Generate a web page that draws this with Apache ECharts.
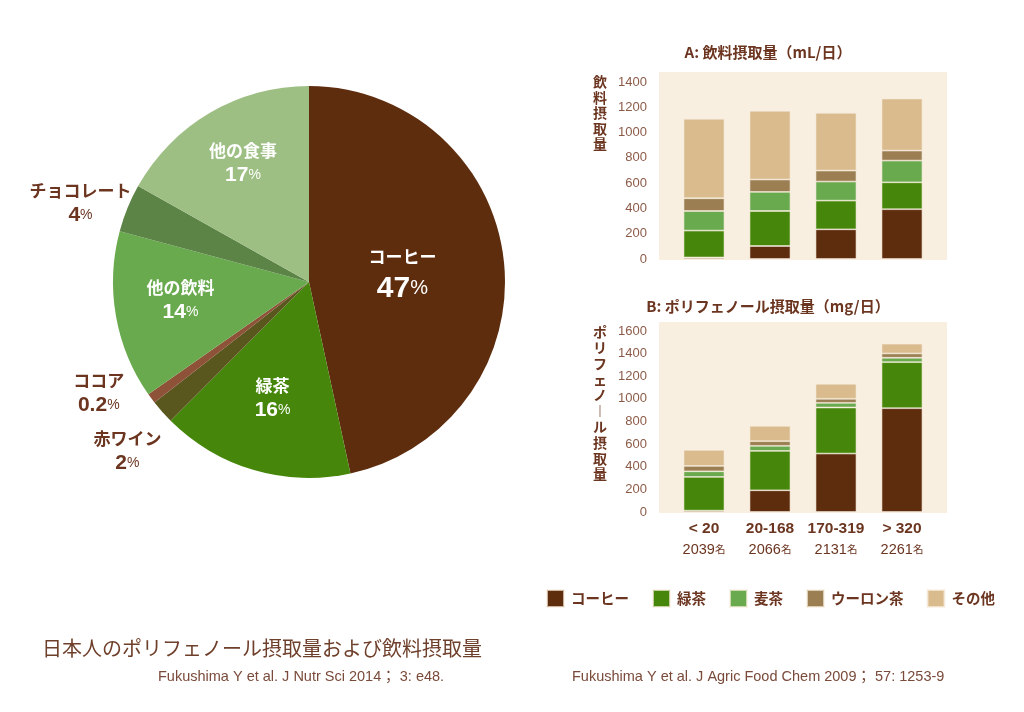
<!DOCTYPE html>
<html><head><meta charset="utf-8">
<script src="https://cdn.jsdelivr.net/npm/echarts@6/dist/echarts.min.js"></script>
<style>html,body{margin:0;padding:0;background:#fff}#c{width:1024px;height:712px}</style>
</head><body><div id="c"></div>
<script>
// ---- data ----
const pieNames = ['コーヒー', '緑茶', '赤ワイン', 'ココア', '他の飲料', 'チョコレート', '他の食事'];
const pieValues = [47, 16, 2, 0.2, 14, 4, 17];

const categories = ['< 20', '20-168', '170-319', '> 320'];
const counts = ['2039', '2066', '2131', '2261'];
const seriesNames = ['コーヒー', '緑茶', '麦茶', 'ウーロン茶', 'その他'];

// A: beverage intake (mL/day), stacked segments
const aCoffee = [12, 103, 235, 394];
const aGreen = [213, 277, 227, 213];
const aBarley = [155, 151, 151, 172];
const aOolong = [101, 98, 87, 79];
const aOther = [629, 544, 457, 412];

// B: polyphenol intake (mg/day), stacked segments
const bCoffee = [12, 192, 517, 918];
const bGreen = [298, 348, 407, 407];
const bBarley = [50, 45, 41, 39];
const bOolong = [47, 41, 36, 38];
const bOther = [142, 136, 133, 86];

const yTicksA = [0, 1400, 200];
const yTicksB = [0, 1600, 200];

// ---- styles ----
const FONT = '"Noto Sans CJK JP", "Noto Sans", sans-serif';
const LATIN = '"Liberation Sans", "Noto Sans CJK JP", sans-serif';
const BROWN = '#6b3520';
const TICK = '#8c5b48';
const BG = '#f8efe1';
const pieColors = ['#5e2d0e', '#46870b', '#59561e', '#8e5239', '#6aaa4f', '#5b8446', '#9dbf83'];
const barColors = ['#5e2d0e', '#46870b', '#6aaa4f', '#9b7f52', '#d9bb8e'];
const insideIdx = [0, 1, 4, 6];
const labelShift = [[-7, 0], [-8, 17], [-106, 100], [-129, 49], [-29, -1], [-135, -43], [-15, -34]];

function pieRich(i) {
  const inside = insideIdx.indexOf(i) >= 0;
  const col = inside ? '#ffffff' : BROWN;
  const big = i === 0;
  return {
    n: { fontFamily: FONT, fontWeight: 'bold', fontSize: 17, color: col, lineHeight: big ? 34 : 28 },
    v: { fontFamily: LATIN, fontWeight: 'bold', fontSize: big ? 30 : 21, color: col },
    p: { fontFamily: LATIN, fontWeight: 'normal', fontSize: big ? 20 : 14, color: col }
  };
}

const pieData = pieNames.map((n, i) => ({
  name: n, value: pieValues[i],
  itemStyle: { color: pieColors[i] },
  label: { rich: pieRich(i) }
}));

const gridA = { top: 72, height: 187 };
const gridB = { top: 322, height: 190 };

function barSeries(name, data, ci, xi, yi, stack) {
  return {
    type: 'bar', name: name, data: data, stack: stack,
    xAxisIndex: xi, yAxisIndex: yi,
    barCategoryGap: '38%',
    itemStyle: { color: barColors[ci], borderColor: 'rgba(248,239,225,0.7)', borderWidth: 0.8 },
    emphasis: { disabled: true }, silent: true
  };
}
const aSets = [aCoffee, aGreen, aBarley, aOolong, aOther];
const bSets = [bCoffee, bGreen, bBarley, bOolong, bOther];

const hiddenCat = { type: 'category', data: categories, show: false };
const hiddenVal = { type: 'value', show: false };
const tickLabel = { margin: 24, showMaxLabel: false, fontFamily: LATIN, fontSize: 13, color: TICK, formatter: v => String(v) };

const option = {
  animation: false,
  textStyle: { fontFamily: FONT },
  grid: [
    { left: 659, width: 288, top: gridA.top, height: gridA.height + 1, show: true, backgroundColor: BG, borderWidth: 0 },
    { left: 671, width: 264, top: gridA.top, height: gridA.height },
    { left: 659, width: 288, top: gridB.top, height: gridB.height + 1, show: true, backgroundColor: BG, borderWidth: 0 },
    { left: 671, width: 264, top: gridB.top, height: gridB.height }
  ],
  xAxis: [
    Object.assign({ gridIndex: 0 }, hiddenCat),
    Object.assign({ gridIndex: 1 }, hiddenCat),
    Object.assign({ gridIndex: 2 }, hiddenCat),
    {
      gridIndex: 3, type: 'category', data: categories,
      axisLine: { show: false }, axisTick: { show: false },
      axisLabel: {
        margin: 6, interval: 0,
        formatter: (v, i) => '{c|' + v + '}\n{n|' + counts[i] + '}{m|名}',
        rich: {
          c: { fontFamily: LATIN, fontWeight: 'bold', fontSize: 15.5, color: BROWN, lineHeight: 21 },
          n: { fontFamily: LATIN, fontSize: 14.5, color: BROWN, lineHeight: 21 },
          m: { fontFamily: FONT, fontSize: 10.5, color: BROWN, lineHeight: 21 }
        }
      }
    }
  ],
  yAxis: [
    Object.assign({ gridIndex: 0 }, hiddenVal),
    Object.assign({
      gridIndex: 1, type: 'value', min: yTicksA[0], max: 1480, interval: yTicksA[2],
      splitLine: { show: false }, axisLine: { show: false }, axisTick: { show: false }
    }, { axisLabel: tickLabel }),
    Object.assign({ gridIndex: 2 }, hiddenVal),
    Object.assign({
      gridIndex: 3, type: 'value', min: yTicksB[0], max: 1680, interval: yTicksB[2],
      splitLine: { show: false }, axisLine: { show: false }, axisTick: { show: false }
    }, { axisLabel: tickLabel })
  ],
  legend: {
    data: seriesNames, left: 546, top: 589, padding: 0, icon: 'rect', itemWidth: 17, itemHeight: 17, itemGap: 23,
    selectedMode: false,
    textStyle: { fontFamily: FONT, fontWeight: 'bold', fontSize: 14.5, color: BROWN, padding: [0, 0, 0, 2] }
  },
  series: [
    {
      type: 'pie', center: [309, 282], radius: 196, startAngle: 90, clockwise: true, minAngle: 3,
      avoidLabelOverlap: false, silent: true,
      label: {
        show: true, position: 'inside', align: 'center',
        formatter: p => '{n|' + p.name + '}\n{v|' + p.value + '}{p|%}'
      },
      labelLine: { show: false },
      labelLayout: p => ({ dx: labelShift[p.dataIndex][0], dy: labelShift[p.dataIndex][1] }),
      emphasis: { disabled: true },
      data: pieData
    }
  ].concat(
    seriesNames.map((n, i) => barSeries(n, aSets[i], i, 1, 1, 'A')),
    seriesNames.map((n, i) => barSeries(n, bSets[i], i, 3, 3, 'B'))
  ),
  graphic: [
    { type: 'text', x: 768, y: 52, style: { text: 'A: 飲料摂取量（mL/日）', font: 'bold 15px ' + FONT, fill: BROWN, textAlign: 'center', textVerticalAlign: 'middle' } },
    { type: 'text', x: 768, y: 306, style: { text: 'B: ポリフェノール摂取量（mg/日）', font: 'bold 15px ' + FONT, fill: BROWN, textAlign: 'center', textVerticalAlign: 'middle' } },
    { type: 'text', x: 600, y: 74, style: { text: '飲\n料\n摂\n取\n量', font: 'bold 14px ' + FONT, lineHeight: 15.5, fill: BROWN, textAlign: 'center' } },
    { type: 'text', x: 600, y: 324, style: { text: 'ポ\nリ\nフ\nェ\nノ\n︱\nル\n摂\n取\n量', font: 'bold 14px ' + FONT, lineHeight: 15.8, fill: BROWN, textAlign: 'center' } },
    { type: 'text', x: 42, y: 648, style: { text: '日本人のポリフェノール摂取量および飲料摂取量', font: '20px ' + FONT, fill: '#6e3f2a', textAlign: 'left', textVerticalAlign: 'middle' } },
    { type: 'text', x: 158, y: 677, style: { text: 'Fukushima Y et al. J Nutr Sci 2014； 3: e48.', font: '14.5px ' + LATIN, fill: '#7a4a3a', textAlign: 'left', textVerticalAlign: 'middle' } },
    { type: 'text', x: 572, y: 677, style: { text: 'Fukushima Y et al. J Agric Food Chem 2009； 57: 1253-9', font: '14.5px ' + LATIN, fill: '#7a4a3a', textAlign: 'left', textVerticalAlign: 'middle' } }
  ]
};
echarts.init(document.getElementById('c'), null, { renderer: 'canvas' }).setOption(option);
</script></body></html>
